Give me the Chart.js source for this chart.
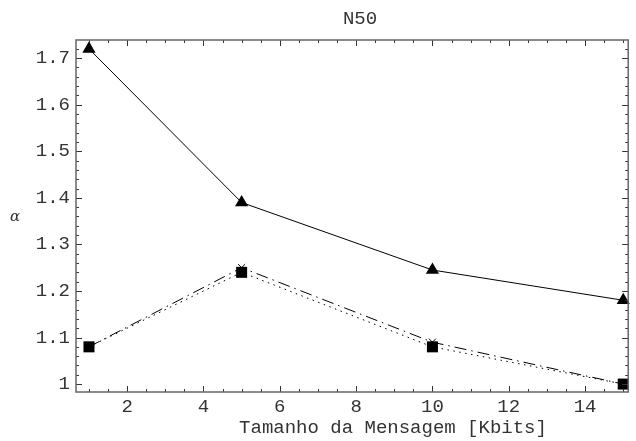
<!DOCTYPE html>
<html>
<head>
<meta charset="utf-8">
<script src="https://cdn.jsdelivr.net/npm/chart.js@4"></script>
<style>
  html, body { margin: 0; padding: 0; background: #fff; }
  #wrap { width: 636px; height: 441px; position: relative; }
</style>
</head>
<body>
<div id="wrap"><canvas id="chartjs"></canvas></div>
<script>
// Dados
const tamanhos = [1, 5, 10, 15];
const serieTriangulo = [1.72, 1.39, 1.245, 1.18];
const serieX = [1.08, 1.25, 1.09, 1.0];
const serieQuadrado = [1.08, 1.24, 1.08, 1.0];

const xTicks = [2, 4, 6, 8, 10, 12, 14];
const yTicks = ['1', '1.1', '1.2', '1.3', '1.4', '1.5', '1.6', '1.7'];

const titulo = 'N50';
const tituloX = 'Tamanho da Mensagem [Kbits]';
const tituloY = 'α';

const fonte = '"Liberation Mono", "DejaVu Sans Mono", monospace';

let canvas = document.getElementById('chartjs');
let context = canvas.getContext('2d');

const pontos = (ys) => tamanhos.map((x, i) => ({ x: x, y: ys[i] }));

// Moldura com marcas para dentro, como no Mathematica
const moldura = {
    id: 'moldura',
    afterDraw(chart) {
        const ctx = chart.ctx;
        const a = chart.chartArea;
        const xs = chart.scales.x;
        const ys = chart.scales.y;
        ctx.save();
        ctx.strokeStyle = '#333';
        ctx.lineWidth = 1;
        // marcas do eixo x (menores a cada 0.5)
        for (let v = 1; v <= 15; v += 0.5) {
            const px = Math.round(xs.getPixelForValue(v)) + 0.5;
            const major = v % 2 === 0;
            const len = major ? 6 : 3;
            ctx.beginPath();
            ctx.moveTo(px, a.bottom); ctx.lineTo(px, a.bottom - len);
            ctx.moveTo(px, a.top); ctx.lineTo(px, a.top + len);
            ctx.stroke();
        }
        // marcas do eixo y (menores a cada 0.02)
        for (let k = 50; k <= 86; k++) {
            const v = k * 0.02;
            const py = Math.round(ys.getPixelForValue(v)) + 0.5;
            const major = k % 5 === 0;
            const len = major ? 6 : 3;
            ctx.beginPath();
            ctx.moveTo(a.left, py); ctx.lineTo(a.left + len, py);
            ctx.moveTo(a.right, py); ctx.lineTo(a.right - len, py);
            ctx.stroke();
        }
        ctx.strokeStyle = '#666';
        ctx.lineWidth = 1.5;
        ctx.strokeRect(a.left, a.top, a.right - a.left, a.bottom - a.top);

        ctx.fillStyle = '#333';
        ctx.textAlign = 'center';
        ctx.textBaseline = 'middle';
        ctx.font = '19px ' + fonte;
        ctx.fillText(titulo, 360, 19);
        ctx.fillText(tituloX, 393, 428);
        ctx.font = 'italic 15px "DejaVu Serif", serif';
        ctx.fillText(tituloY, 15, 217);
        ctx.restore();
    }
};

let config = {
    type: 'line',
    data: {
        datasets: [
            {
                label: 'quadrado',
                data: pontos(serieQuadrado),
                order: 0,
                borderColor: '#000',
                backgroundColor: '#000',
                borderWidth: 1,
                borderDash: [1.5, 4.5],
                pointStyle: 'rect',
                pointRadius: 7.8,
                pointBorderWidth: 0,
                clip: false
            }, {
                label: 'x',
                data: pontos(serieX),
                order: 1,
                borderColor: '#000',
                backgroundColor: '#000',
                borderWidth: 1,
                borderDash: [12, 5, 1.5, 5],
                pointStyle: 'crossRot',
                pointRadius: 5,
                pointBorderWidth: 1,
                clip: false
            }, {
                label: 'triangulo',
                data: pontos(serieTriangulo),
                order: 2,
                borderColor: '#000',
                backgroundColor: '#000',
                borderWidth: 1,
                pointStyle: 'triangle',
                pointRadius: 7.6,
                pointBorderWidth: 0,
                clip: false
            }
        ]
    },
    options: {
        responsive: true,
        maintainAspectRatio: false,
        animation: false,
        layout: { padding: { left: 0, right: 0, top: 40, bottom: 0 } },
        scales: {
            x: {
                type: 'linear',
                min: 0.66,
                max: 15.13,
                afterBuildTicks: (s) => { s.ticks = xTicks.map(v => ({ value: v })); },
                afterFit: (s) => { s.height = 49; },
                ticks: {
                    color: '#333',
                    font: { family: fonte, size: 19 },
                    padding: 4,
                    maxRotation: 0,
                    autoSkip: false
                },
                grid: { display: false, drawTicks: false },
                border: { display: false }
            },
            y: {
                type: 'linear',
                min: 0.983,
                max: 1.739,
                afterBuildTicks: (s) => { s.ticks = yTicks.map(v => ({ value: parseFloat(v) })); },
                afterFit: (s) => { s.width = 76; },
                ticks: {
                    color: '#333',
                    font: { family: fonte, size: 19 },
                    padding: 6,
                    autoSkip: false,
                    callback: (v) => yTicks.find(t => parseFloat(t) === v)
                },
                grid: { display: false, drawTicks: false },
                border: { display: false }
            }
        },
        plugins: {
            legend: { display: false },
            tooltip: { enabled: false },
            title: { display: false }
        }
    },
    plugins: [moldura]
};

let chart = new Chart(context, config);
</script>
</body>
</html>
